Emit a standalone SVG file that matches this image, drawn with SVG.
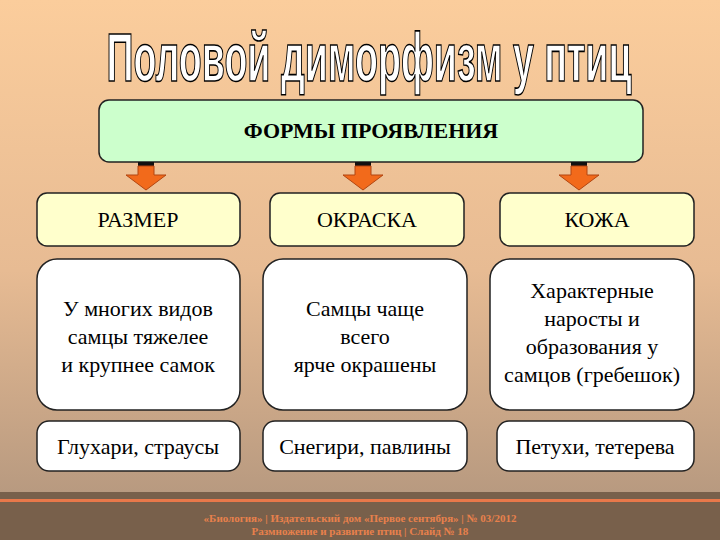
<svg xmlns="http://www.w3.org/2000/svg" width="720" height="540" viewBox="0 0 720 540">
<defs>
<linearGradient id="bg" x1="0" y1="0" x2="0" y2="1">
<stop offset="0" stop-color="#fbcd9c"/>
<stop offset="0.55" stop-color="#e7bb93"/>
<stop offset="1" stop-color="#b89a80"/>
</linearGradient>
<style>
.box{stroke:#222;stroke-width:1.5}
.t{font-family:"Liberation Serif",serif;font-size:22px;fill:#000;text-anchor:middle}
.arrow{fill:#f26a1b;stroke:#b24510;stroke-width:1}
</style>
</defs>
<rect width="720" height="492" fill="url(#bg)"/>
<rect y="492" width="720" height="48" fill="#78604b"/>
<rect y="499" width="720" height="3" fill="#e8784a"/>
<text x="369" y="81" font-family="Liberation Sans,Arial,sans-serif" font-weight="bold" font-size="68" fill="#fff" stroke="#000" stroke-width="1.6" text-anchor="middle" textLength="525" lengthAdjust="spacingAndGlyphs">Половой  диморфизм  у  птиц</text>
<g id="top"><rect class="box" x="99" y="100" width="544" height="62" rx="10" fill="#ccffcc"/>
<text class="t" x="371" y="138" font-weight="bold" font-size="19">ФОРМЫ ПРОЯВЛЕНИЯ</text></g>
<g id="connectors">
<rect x="138" y="162" width="16" height="4" fill="#111"/>
<path class="arrow" d="M138 166h16v9h12l-20 15l-20-15h12z"/>
<rect x="355" y="162" width="16" height="4" fill="#111"/>
<path class="arrow" d="M355 166h16v9h12l-20 15l-20-15h12z"/>
<rect x="571" y="162" width="16" height="4" fill="#111"/>
<path class="arrow" d="M571 166h16v9h12l-20 15l-20-15h12z"/>
</g>
<g id="razmer"><rect class="box" x="37" y="193" width="203" height="53" rx="10" fill="#ffffcc"/><text class="t" x="138" y="227">РАЗМЕР</text></g>
<g id="okraska"><rect class="box" x="270" y="193" width="194" height="53" rx="10" fill="#ffffcc"/><text class="t" x="367" y="227">ОКРАСКА</text></g>
<g id="kozha"><rect class="box" x="500" y="193" width="194" height="53" rx="10" fill="#ffffcc"/><text class="t" x="597" y="227">КОЖА</text></g>
<g id="d1"><rect class="box" x="37" y="259" width="203" height="151" rx="20" fill="#fff"/>
<text class="t" x="138" y="316">У многих видов</text><text class="t" x="138" y="344">самцы тяжелее</text><text class="t" x="138" y="372">и крупнее самок</text></g>
<g id="d2"><rect class="box" x="263" y="259" width="204" height="151" rx="20" fill="#fff"/>
<text class="t" x="365" y="316">Самцы чаще</text><text class="t" x="365" y="344">всего</text><text class="t" x="365" y="372">ярче окрашены</text></g>
<g id="d3"><rect class="box" x="490" y="259" width="204" height="151" rx="20" fill="#fff"/>
<text class="t" x="592" y="298">Характерные</text><text class="t" x="592" y="326">наросты и</text><text class="t" x="592" y="354">образования у</text><text class="t" x="592" y="382">самцов (гребешок)</text></g>
<g id="e1"><rect class="box" x="37" y="421" width="203" height="50" rx="12" fill="#fff"/><text class="t" x="138" y="454">Глухари, страусы</text></g>
<g id="e2"><rect class="box" x="263" y="421" width="204" height="50" rx="12" fill="#fff"/><text class="t" x="365" y="454">Снегири, павлины</text></g>
<g id="e3"><rect class="box" x="497" y="421" width="197" height="50" rx="12" fill="#fff"/><text class="t" x="595" y="454">Петухи, тетерева</text></g>
<g font-family="Liberation Serif,serif" font-size="11" font-weight="bold" fill="#e8804c" text-anchor="middle">
<text x="360" y="522">«Биология» | Издательский дом «Первое сентября» | № 03/2012</text>
<text x="360" y="535">Размножение и развитие птиц | Слайд № 18</text>
</g>
</svg>
